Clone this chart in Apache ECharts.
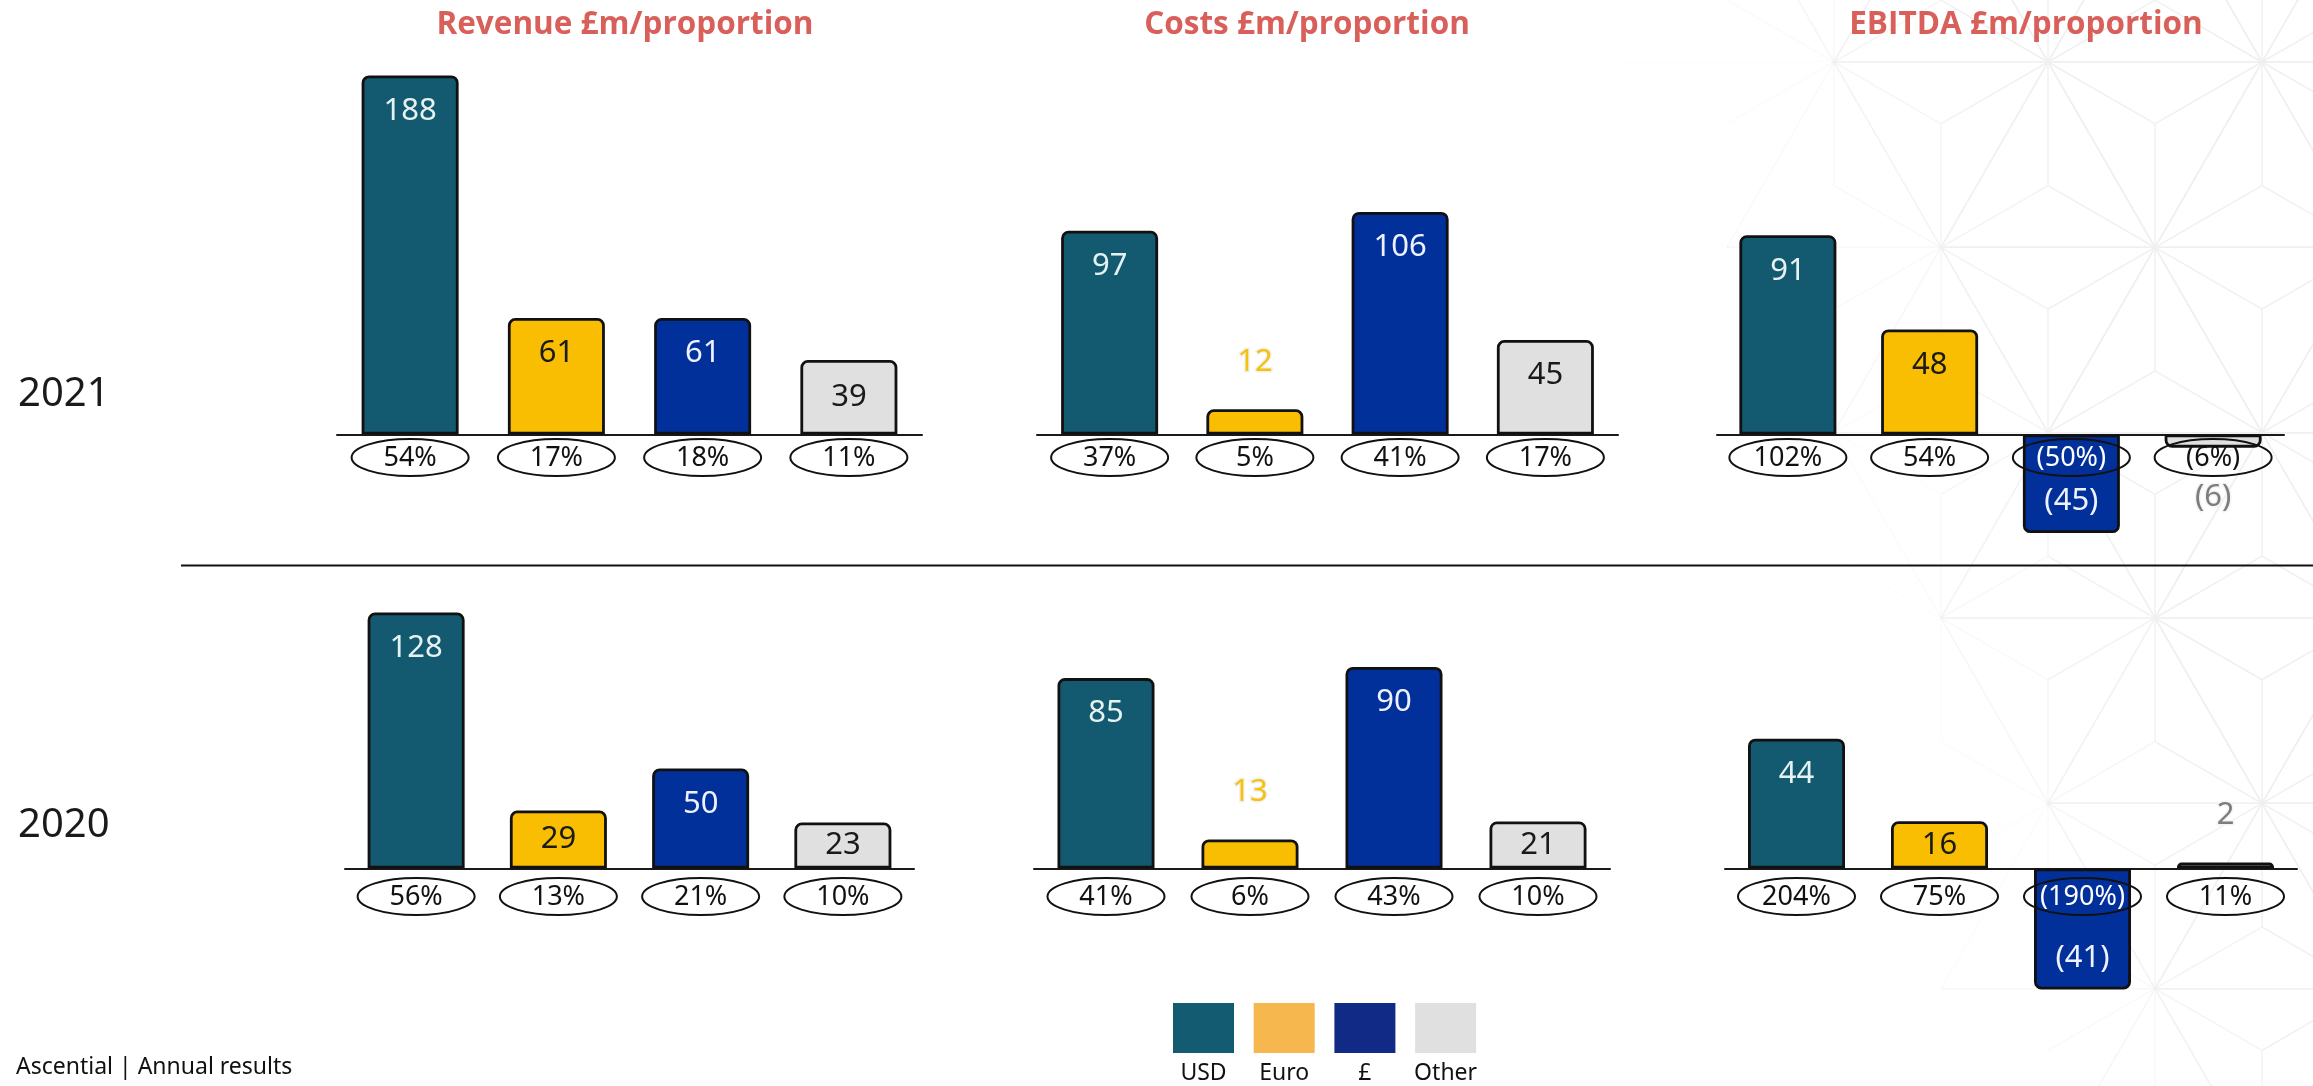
<!DOCTYPE html>
<html><head><meta charset="utf-8">
<script src="https://cdn.jsdelivr.net/npm/echarts@6/dist/echarts.min.js"></script>
<style>html,body{margin:0;padding:0;background:#fff}#c{width:2313px;height:1086px}</style>
</head><body><div id="c"></div>
<script>
// ---------- data ----------
const categories = ['USD', 'Euro', '£', 'Other'];
const years = ['2021', '2020'];
const panelTitles = ['Revenue £m/proportion', 'Costs £m/proportion', 'EBITDA £m/proportion'];

const revenue2021 = [188, 61, 61, 39];
const revenuePct2021 = ['54%', '17%', '18%', '11%'];
const costs2021 = [97, 12, 106, 45];
const costsPct2021 = ['37%', '5%', '41%', '17%'];
const ebitda2021 = [91, 48, -45, -6];
const ebitdaPct2021 = ['102%', '54%', '(50%)', '(6%)'];

const revenue2020 = [128, 29, 50, 23];
const revenuePct2020 = ['56%', '13%', '21%', '10%'];
const costs2020 = [85, 13, 90, 21];
const costsPct2020 = ['41%', '6%', '43%', '10%'];
const ebitda2020 = [44, 16, -41, 2];
const ebitdaPct2020 = ['204%', '75%', '(190%)', '11%'];

const footerText = 'Ascential | Annual results';

// ---------- styles / layout ----------
const barColors = ['#135a70', '#f9bd02', '#02309b', '#e0e0e0'];
const legendColors = ['#135b70', '#f6b74e', '#112a85', '#e0e0e0'];
const insideLabelColors = ['#e6f2f2', '#1a1a1a', '#eef2ff', '#1a1a1a'];
const FONT = 'Noto Sans';

const panels = [
  { vals: revenue2021, pct: revenuePct2021, left: 337,  width: 585, base: 434.5, scale: 1.91, off: 23 },
  { vals: costs2021,   pct: costsPct2021,   left: 1037, width: 581, base: 434.5, scale: 2.10, off: 23 },
  { vals: ebitda2021,  pct: ebitdaPct2021,  left: 1717, width: 567, base: 434.5, scale: 2.19, off: 23 },
  { vals: revenue2020, pct: revenuePct2020, left: 345,  width: 569, base: 868.5, scale: 2.00, off: 28 },
  { vals: costs2020,   pct: costsPct2020,   left: 1034, width: 576, base: 868.5, scale: 2.24, off: 28 },
  { vals: ebitda2020,  pct: ebitdaPct2020,  left: 1725, width: 572, base: 868.5, scale: 2.95, off: 28 }
];
const ABOVE = 380, BELOW = 140, PCT_FONT = 27;

const grid = [], xAxis = [], yAxis = [], series = [];
panels.forEach((p, k) => {
  grid.push({ left: p.left, width: p.width, top: p.base - ABOVE, height: ABOVE + BELOW });
  xAxis.push({
    type: 'category', gridIndex: k, data: categories,
    axisLine: { onZero: true, lineStyle: { color: '#1a1a1a', width: 2 } },
    axisTick: { show: false }, splitLine: { show: false }, axisLabel: { show: false }
  });
  yAxis.push({
    type: 'value', gridIndex: k, min: -BELOW / p.scale, max: ABOVE / p.scale,
    show: false, splitLine: { show: false }
  });
  series.push({
    type: 'bar', xAxisIndex: k, yAxisIndex: k, barWidth: 97, z: 3,
    silent: true,
    itemStyle: { borderColor: '#111', borderWidth: 2.8 },
    label: {
      show: true, fontSize: 31, fontFamily: FONT,
      formatter: prm => prm.value < 0 ? '(' + (-prm.value) + ')' : String(prm.value)
    },
    data: p.vals.map((v, i) => {
      const h = Math.abs(v) * p.scale;
      let label;
      if (h < 35) {
        label = {
          position: v >= 0 ? 'top' : 'bottom', distance: v >= 0 ? 32 : 34,
          color: i === 1 ? '#f6c10c' : '#7d7d7d',
          textBorderColor: i === 1 ? '#f1f1f1' : '#f4f4f4', textBorderWidth: 3
        };
      } else if (h < 80) {
        label = { position: 'inside', color: insideLabelColors[i] };
      } else {
        label = { position: v >= 0 ? 'insideTop' : 'insideBottom', distance: v >= 0 ? 20 : 16, color: insideLabelColors[i] };
      }
      return {
        value: v, label,
        itemStyle: { color: barColors[i], borderRadius: v >= 0 ? [6, 6, 0, 0] : [0, 0, 6, 6] }
      };
    })
  });
  // proportion labels in ellipses, anchored at each category on the zero line
  series.push({
    type: 'custom', xAxisIndex: k, yAxisIndex: k, z: 6, silent: true,
    data: p.pct.map((s, i) => [i, 0]),
    renderItem: (params, api) => {
      const i = params.dataIndex;
      const pt = api.coord([api.value(0), api.value(1)]);
      const cy = pt[1] + p.off;
      return {
        type: 'group',
        children: [
          { type: 'ellipse', shape: { cx: pt[0], cy, rx: 58.5, ry: 18.5 },
            style: { fill: 'none', stroke: '#111', lineWidth: 2 } },
          { type: 'text', x: pt[0], y: cy + 1,
            style: { text: p.pct[i], fontSize: PCT_FONT, fontFamily: FONT,
                     fill: (p.vals[i] < 0 && i === 2) ? '#ffffff' : '#111111',
                     align: 'center', verticalAlign: 'middle' } }
        ]
      };
    }
  });
});

// ---------- decorations ----------
const graphic = [];
// Asanoha background pattern
(function () {
  const side = 214, rowH = side * Math.sqrt(3) / 2, x0 = 1834, y0 = 62;
  const V = (k, i) => [x0 + i * side + ((k % 2 + 2) % 2 ? side / 2 : 0), y0 + k * rowH];
  const segs = [];
  for (let k = -1; k <= 6; k++) {
    for (let i = -4; i <= 3; i++) {
      const a = V(k, i), b = V(k, i + 1);
      [[a[0] + side / 2, y0 + (k + 1) * rowH], [a[0] + side / 2, y0 + (k - 1) * rowH]].forEach(c => {
        const cx = (a[0] + b[0] + c[0]) / 3, cy = (a[1] + b[1] + c[1]) / 3;
        segs.push([a, b], [a, c], [b, c], [[cx, cy], a], [[cx, cy], b], [[cx, cy], c]);
      });
    }
  }
  segs.forEach(s => {
    const mx = (s[0][0] + s[1][0]) / 2, my = (s[0][1] + s[1][1]) / 2;
    let alpha = (mx - 1680 - 0.3 * Math.max(0, my)) / 300;
    alpha = Math.max(0, Math.min(1, alpha));
    if (alpha <= 0.02) return;
    graphic.push({
      type: 'line', silent: true, z: -10,
      shape: { x1: s[0][0], y1: s[0][1], x2: s[1][0], y2: s[1][1] },
      style: { stroke: '#f0f0f0', lineWidth: 1.5, opacity: alpha }
    });
  });
})();

const txt = (x, y, text, o) => ({
  type: 'text', x, y, silent: true, z: 10,
  style: Object.assign({
    text, fontFamily: FONT, fontSize: 22, fill: '#111',
    align: 'center', verticalAlign: 'middle', textAlign: 'center', textVerticalAlign: 'middle'
  }, o || {})
});

// titles
const titleX = [625, 1307, 2026];
panelTitles.forEach((t, i) => graphic.push(txt(titleX[i], 25, t, {
  fontFamily: 'Open Sans', fontWeight: 'bold', fontSize: 31.5, fill: '#d9605a'
})));
// year labels
const yearY = [395, 826];
years.forEach((y, i) => graphic.push(txt(18, yearY[i], y, {
  fontSize: 40, fill: '#1a1a1a', align: 'left', textAlign: 'left'
})));
// divider
graphic.push({
  type: 'line', silent: true, z: 10,
  shape: { x1: 181, y1: 565.5, x2: 2313, y2: 565.5 },
  style: { stroke: '#111', lineWidth: 2 }
});
// legend
const legX0 = 1173, legStep = 80.7, legW = 61, legH = 50, legY = 1003;
categories.forEach((c, i) => {
  const x = legX0 + i * legStep;
  graphic.push({
    type: 'rect', silent: true, z: 10,
    shape: { x, y: legY, width: legW, height: legH },
    style: { fill: legendColors[i] }
  });
  graphic.push(txt(x + legW / 2, 1073, c, { fontSize: 23 }));
});
// footer
graphic.push(txt(16, 1067, footerText, { fontSize: 23, align: 'left', textAlign: 'left' }));

const chart = echarts.init(document.getElementById('c'), null, { renderer: 'canvas' });
chart.setOption({
  animation: false,
  backgroundColor: '#ffffff',
  grid, xAxis, yAxis, series, graphic
});
</script>
</body></html>
